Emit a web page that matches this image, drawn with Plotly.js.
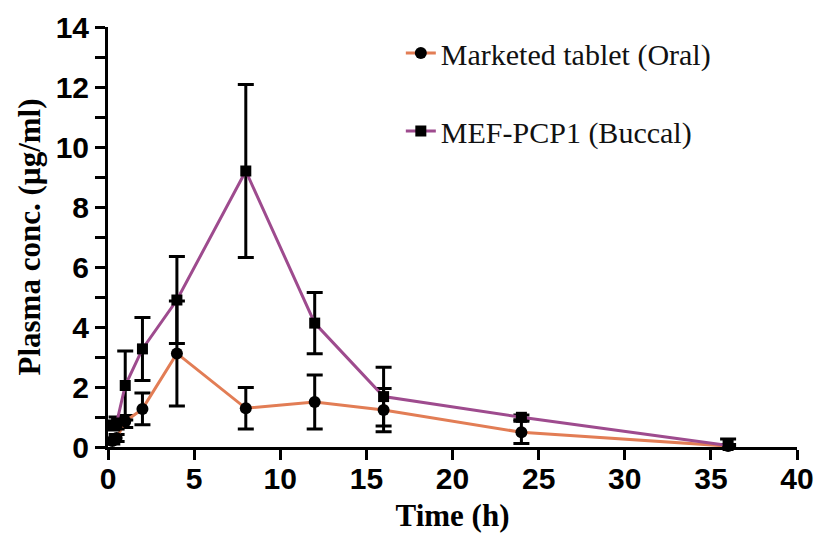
<!DOCTYPE html>
<html>
<head>
<meta charset="utf-8">
<script src="https://cdn.plot.ly/plotly-3.0.1.min.js"></script>
<style>html,body{margin:0;padding:0;background:#fff;}#chart{width:830px;height:533px;}</style>
</head>
<body>
<div id="chart"></div>
<script>
const timeOral = [0.25, 0.5, 1, 2, 4, 8, 12, 16, 24, 36];
const concOral = [0.2, 0.3, 0.85, 1.27, 3.12, 1.29, 1.5, 1.23, 0.49, 0.03];
const errOral = [0.1, 0.12, 0.2, 0.53, 1.75, 0.69, 0.9, 0.72, 0.37, 0.05];

const timeBuccal = [0.25, 0.5, 1, 2, 4, 8, 12, 16, 24, 36];
const concBuccal = [0.72, 0.8, 2.05, 3.27, 4.9, 9.2, 4.13, 1.68, 0.99, 0.05];
const errBuccal = [0.15, 0.2, 1.15, 1.05, 1.45, 2.88, 1.02, 0.98, 0.08, 0.22];

const nameOral = 'Marketed tablet (Oral)';
const nameBuccal = 'MEF-PCP1 (Buccal)';

const serif = '"Liberation Serif", "Times New Roman", serif';
const sans = '"Liberation Sans", Arial, sans-serif';

const traces = [
  {
    x: timeOral, y: concOral, name: nameOral, type: 'scatter', mode: 'lines+markers',
    legendgroup: 'a',
    line: {color: '#E27D55', width: 3},
    marker: {symbol: 'circle', size: 12, color: '#000'},
    error_y: {type: 'data', array: errOral, visible: true, color: '#000', thickness: 3, width: 8},
    cliponaxis: false
  },
  {
    x: timeBuccal, y: concBuccal, name: nameBuccal, type: 'scatter', mode: 'lines+markers',
    legendgroup: 'b',
    line: {color: '#9E4B8E', width: 3},
    marker: {symbol: 'square', size: 11, color: '#000'},
    error_y: {type: 'data', array: errBuccal, visible: true, color: '#000', thickness: 3, width: 8},
    cliponaxis: false
  }
];

const layout = {
  width: 830, height: 533,
  margin: {l: 108, r: 33, t: 27, b: 86},
  paper_bgcolor: '#fff', plot_bgcolor: '#fff',
  showlegend: true,
  legend: {
    x: 0.425, y: 1.0, xanchor: 'left', yanchor: 'top',
    font: {family: serif, size: 30, color: '#111'},
    tracegroupgap: 36, bgcolor: 'rgba(0,0,0,0)'
  },
  xaxis: {
    range: [0, 40], dtick: 5, tick0: 0,
    showgrid: false, zeroline: false,
    showline: true, linecolor: '#000', linewidth: 3,
    ticks: 'outside', ticklen: 10, tickwidth: 3, tickcolor: '#000',
    ticklabelstandoff: -7,
    tickprefix: '<b>', ticksuffix: '</b>',
    tickfont: {family: sans, size: 30, color: '#000'},
    title: {text: '<b>Time (h)</b>', font: {family: serif, size: 31, color: '#000'}, standoff: 12}
  },
  yaxis: {
    range: [0, 14], dtick: 2, tick0: 0,
    showgrid: false, zeroline: false,
    showline: true, linecolor: '#000', linewidth: 3,
    ticks: 'outside', ticklen: 10, tickwidth: 3, tickcolor: '#000',
    minor: {dtick: 1, ticks: 'outside', ticklen: 10, tickwidth: 3, tickcolor: '#000', showgrid: false},
    tickprefix: '<b>', ticksuffix: '</b>',
    tickfont: {family: sans, size: 30, color: '#000'},
    title: {text: '<b>Plasma conc. (µg/ml)</b>', font: {family: serif, size: 31, color: '#000'}, standoff: 6}
  }
};

Plotly.newPlot('chart', traces, layout, {displayModeBar: false, staticPlot: true});
</script>
</body>
</html>
